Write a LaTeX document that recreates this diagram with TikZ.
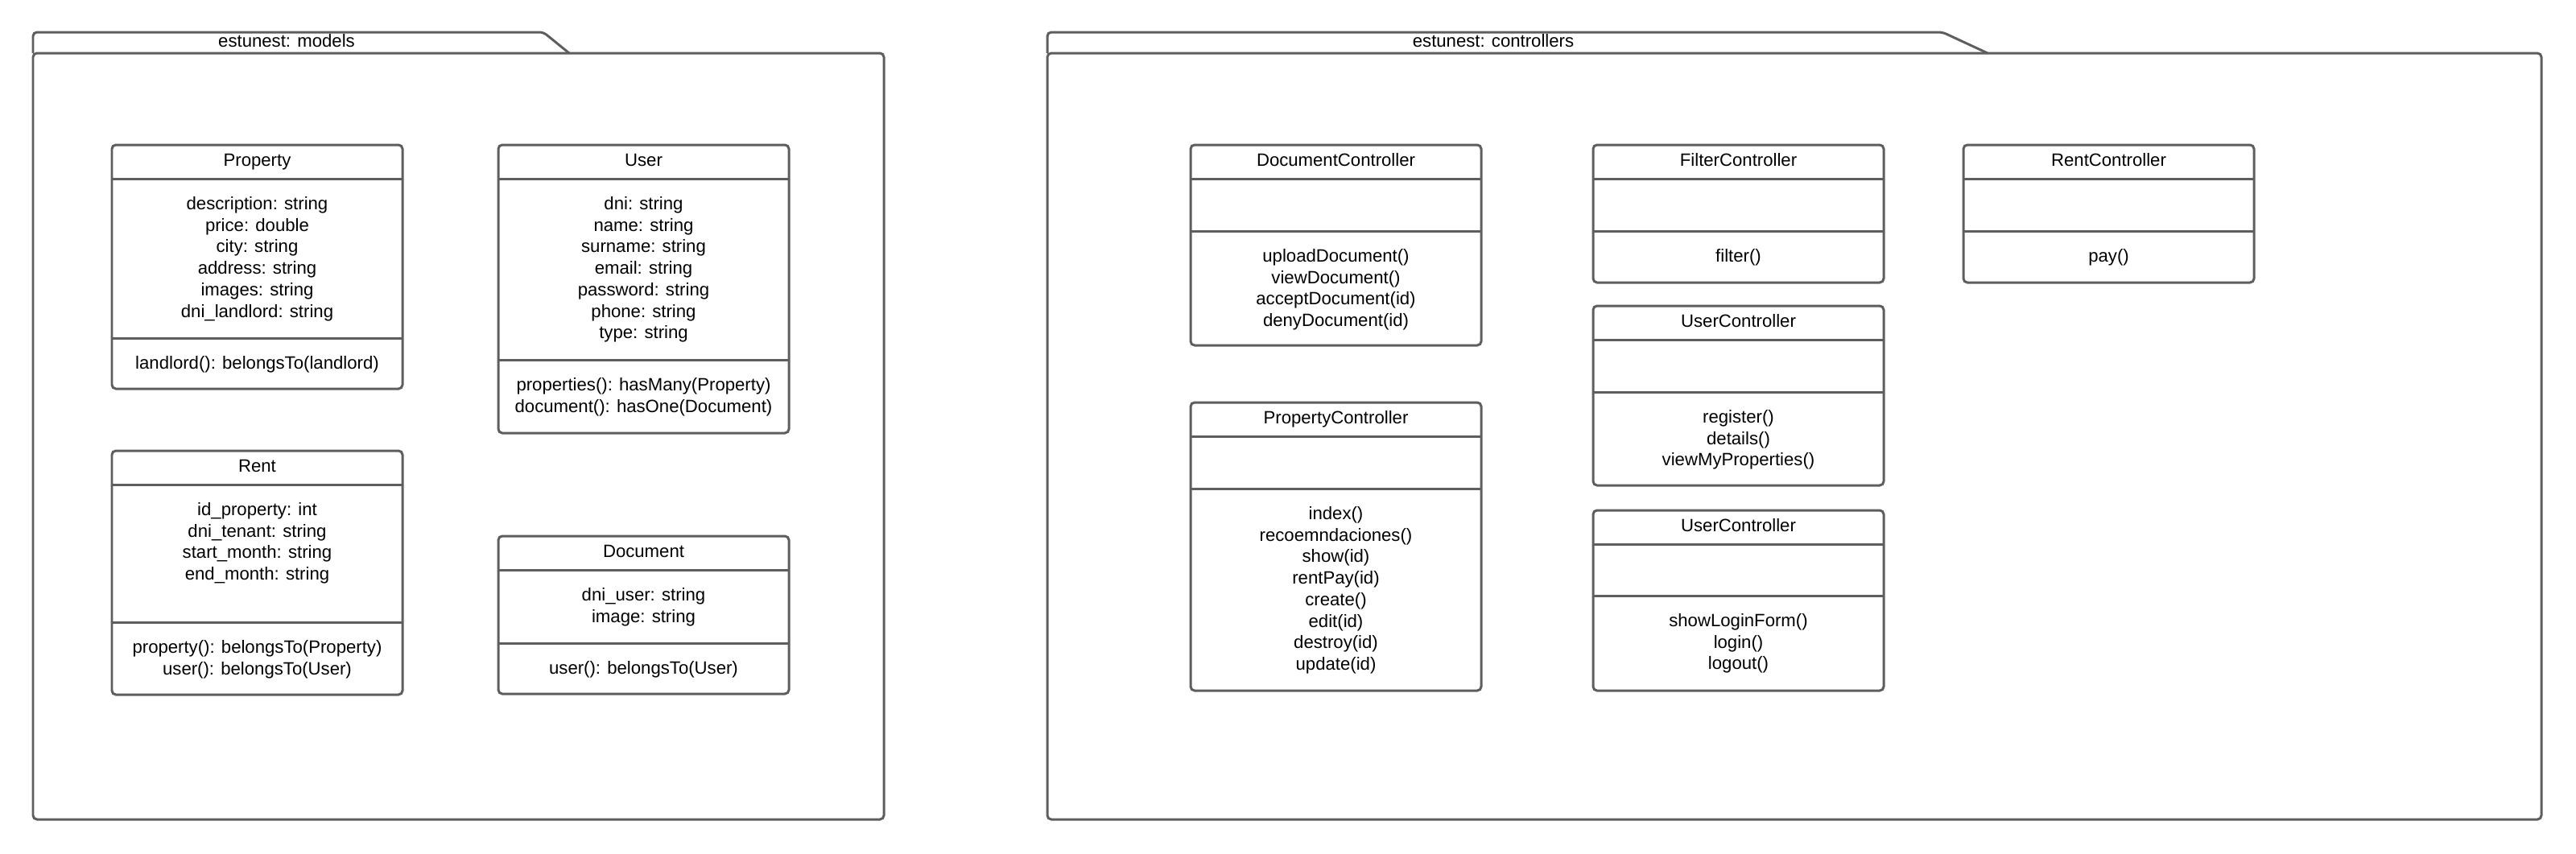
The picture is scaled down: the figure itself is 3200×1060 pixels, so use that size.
\documentclass[tikz,border=0pt]{standalone}
\usepackage{fontspec}
\setmainfont{Liberation Sans}
\usetikzlibrary{positioning}

\definecolor{umlgray}{HTML}{5E5E5E}

\tikzset{
  umlline/.style={draw=umlgray, line width=0.85pt, rounded corners=1.4pt},
  sepline/.style={draw=umlgray, line width=0.85pt},
  classname/.style={font=\fontsize{6.3}{7.6}\selectfont, inner sep=0pt},
  members/.style={font=\fontsize{6.3}{7.6}\selectfont, inner sep=0pt, align=center},
}

% class box: id, left, right, top, header line, divider, bottom
\newcommand{\classbox}[7]{%
  \draw[umlline] (#2,#4) rectangle (#3,#7);
  \draw[sepline] (#2,#5) -- (#3,#5) (#2,#6) -- (#3,#6);
  \coordinate (#1-head) at ({(#2+#3)/2},{(#4+#5)/2});
  \coordinate (#1-attr) at ({(#2+#3)/2},#5);
  \coordinate (#1-ops) at ({(#2+#3)/2},#6);
}

\begin{document}
\begin{tikzpicture}[x=0.01cm, y=-0.01cm]
  \useasboundingbox (0,0) rectangle (3200,1060);

% package: models
  \draw[umlline] (41,66) rectangle (1098,1018);
  \draw[umlline] (41,66) -- (41,40) -- (675,40) -- (707,66);
  \node[classname] (models) at (356,53) {\strut estunest: models};

  \classbox{property}{139}{500}{180}{222}{420}{483}
  \node[classname] (property) at (property-head) {\strut Property};
  \node[members, below=1.9mm of property-attr] (property-a)
    {\strut description: string\\price: double\\city: string\\address: string\\images: string\\dni\_landlord: string};
  \node[members, below=1.9mm of property-ops] (property-m)
    {\strut landlord(): belongsTo(landlord)};

  \classbox{user}{619}{980}{180}{222}{447}{538}
  \node[classname] (user) at (user-head) {\strut User};
  \node[members, below=1.9mm of user-attr] (user-a)
    {\strut dni: string\\name: string\\surname: string\\email: string\\password: string\\phone: string\\type: string};
  \node[members, below=1.9mm of user-ops] (user-m)
    {\strut properties(): hasMany(Property)\\document(): hasOne(Document)};

  \classbox{rent}{139}{500}{560}{602}{773}{863}
  \node[classname] (rent) at (rent-head) {\strut Rent};
  \node[members, below=1.9mm of rent-attr] (rent-a)
    {\strut id\_property: int\\dni\_tenant: string\\start\_month: string\\end\_month: string};
  \node[members, below=1.9mm of rent-ops] (rent-m)
    {\strut property(): belongsTo(Property)\\user(): belongsTo(User)};

  \classbox{document}{619}{980}{666}{708}{799}{862}
  \node[classname] (document) at (document-head) {\strut Document};
  \node[members, below=1.9mm of document-attr] (document-a)
    {\strut dni\_user: string\\image: string};
  \node[members, below=1.9mm of document-ops] (document-m)
    {\strut user(): belongsTo(User)};

% package: controllers
  \draw[umlline] (1301,66) rectangle (3157,1018);
  \draw[umlline] (1301,66) -- (1301,40) -- (2413,40) -- (2469,66);
  \node[classname] (controllers) at (1855,53) {\strut estunest: controllers};

  \classbox{docctrl}{1479}{1840}{180}{222}{287}{429}
  \node[classname] (docctrl) at (docctrl-head) {\strut DocumentController};
  \node[members, below=1.9mm of docctrl-ops] (docctrl-m)
    {\strut uploadDocument()\\viewDocument()\\acceptDocument(id)\\denyDocument(id)};

  \classbox{propctrl}{1479}{1840}{500}{542}{607}{858}
  \node[classname] (propctrl) at (propctrl-head) {\strut PropertyController};
  \node[members, below=1.9mm of propctrl-ops] (propctrl-m)
    {\strut index()\\recoemndaciones()\\show(id)\\rentPay(id)\\create()\\edit(id)\\destroy(id)\\update(id)};

  \classbox{filterctrl}{1979}{2340}{180}{222}{287}{351}
  \node[classname] (filterctrl) at (filterctrl-head) {\strut FilterController};
  \node[members, below=1.9mm of filterctrl-ops] (filterctrl-m) {\strut filter()};

  \classbox{rentctrl}{2439}{2800}{180}{222}{287}{351}
  \node[classname] (rentctrl) at (rentctrl-head) {\strut RentController};
  \node[members, below=1.9mm of rentctrl-ops] (rentctrl-m) {\strut pay()};

  \classbox{userctrl}{1979}{2340}{380}{422}{487}{603}
  \node[classname] (userctrl) at (userctrl-head) {\strut UserController};
  \node[members, below=1.9mm of userctrl-ops] (userctrl-m)
    {\strut register()\\details()\\viewMyProperties()};

  \classbox{loginctrl}{1979}{2340}{634}{676}{740}{858}
  \node[classname] (loginctrl) at (loginctrl-head) {\strut UserController};
  \node[members, below=1.9mm of loginctrl-ops] (loginctrl-m)
    {\strut showLoginForm()\\login()\\logout()};

\end{tikzpicture}
\end{document}
